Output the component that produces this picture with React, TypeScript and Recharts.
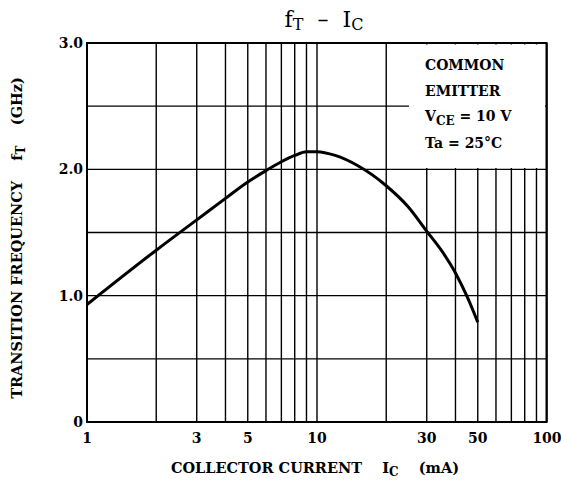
import { LineChart, Line, XAxis, YAxis, CartesianGrid } from "recharts";

// f_T vs I_C, common emitter, VCE = 10 V, Ta = 25°C
const currentMA = [1, 2, 3, 4, 5, 6, 7, 8, 9, 10, 12, 15, 20, 25, 30, 35, 40, 45, 50];
const ftGHz = [0.93, 1.36, 1.6, 1.77, 1.9, 1.99, 2.06, 2.11, 2.14, 2.14, 2.11, 2.03, 1.87, 1.7, 1.51, 1.35, 1.18, 0.99, 0.79];

const xGrid = [1, 2, 3, 4, 5, 6, 7, 8, 9, 10, 20, 30, 40, 50, 60, 70, 80, 90, 100];
const xLabels = [1, 3, 5, 10, 30, 50, 100];
const yGrid = [0, 0.5, 1, 1.5, 2, 2.5, 3];
const yLabels = [0, 1, 2, 3];

const data = currentMA.map((ic, i) => ({ ic, ft: ftGHz[i] }));

const FONT = "'DejaVu Serif', 'Liberation Serif', serif";

const XTick = (props: any) => {
  const { x, payload } = props;
  if (!xLabels.includes(payload.value)) return null;
  return (
    <text x={x} y={443} textAnchor="middle" fontFamily={FONT} fontWeight="bold" fontSize={14} fill="#000">
      {payload.value}
    </text>
  );
};

const YTick = (props: any) => {
  const { y, payload } = props;
  if (!yLabels.includes(payload.value)) return null;
  return (
    <text x={83} y={y + 5} textAnchor="end" fontFamily={FONT} fontWeight="bold" fontSize={14} fill="#000">
      {payload.value === 0 ? "0" : payload.value.toFixed(1)}
    </text>
  );
};

export default function App() {
  return (
    <div style={{ position: "absolute", left: 0, top: 0, width: 561, height: 486, background: "#fff" }}>
      <LineChart width={561} height={486} data={data} margin={{ top: 43, right: 14, left: 0, bottom: 0 }}>
        <CartesianGrid stroke="#000" strokeWidth={1.4} vertical horizontal />
        <XAxis
          dataKey="ic"
          type="number"
          scale="log"
          domain={[1, 100]}
          ticks={xGrid}
          interval={0}
          allowDataOverflow
          height={64}
          tickLine={false}
          axisLine={{ stroke: "#000", strokeWidth: 2 }}
          tick={<XTick />}
        />
        <YAxis
          type="number"
          domain={[0, 3]}
          ticks={yGrid}
          interval={0}
          width={87}
          tickLine={false}
          axisLine={{ stroke: "#000", strokeWidth: 2 }}
          tick={<YTick />}
        />
        <Line dataKey="ft" type="monotone" stroke="#000" strokeWidth={3} dot={false} isAnimationActive={false} />
      </LineChart>
      <svg width={561} height={486} style={{ position: "absolute", left: 0, top: 0, pointerEvents: "none" }}>
        <rect x={87} y={43} width={459.5} height={379} fill="none" stroke="#000" strokeWidth={2} />
        <rect x={409} y={44.5} width={136} height={123.5} fill="#fff" />
        <g fontFamily={FONT} fontWeight="bold" fontSize={14} fill="#000">
          <text x={425} y={70}>COMMON</text>
          <text x={425} y={96}>EMITTER</text>
          <text x={425} y={121}>
            V<tspan fontSize={12} dy={4}>CE</tspan>
            <tspan dy={-4}> = 10 V</tspan>
          </text>
          <text x={425} y={148}>Ta = 25°C</text>
        </g>
        <text x={324} y={27} textAnchor="middle" fontFamily={FONT} fontSize={22} fill="#000" xmlSpace="preserve">
          f<tspan fontSize={16} dy={3}>T</tspan>
          <tspan dy={-3}>{"  –  "}</tspan>I<tspan fontSize={16} dy={3}>C</tspan>
        </text>
        <text x={315} y={473} textAnchor="middle" fontFamily={FONT} fontWeight="bold" fontSize={14.5} fill="#000" xmlSpace="preserve">
          COLLECTOR CURRENT{"    "}I<tspan fontSize={12} dy={3}>C</tspan>
          <tspan dy={-3}>{"    "}(mA)</tspan>
        </text>
        <text
          x={0}
          y={0}
          transform="translate(22, 238) rotate(-90)"
          textAnchor="middle"
          fontFamily={FONT}
          fontWeight="bold"
          fontSize={14.5}
          fill="#000"
          xmlSpace="preserve"
        >
          TRANSITION FREQUENCY{"    "}f<tspan fontSize={12} dy={3}>T</tspan>
          <tspan dy={-3}>{"    "}(GHz)</tspan>
        </text>
      </svg>
    </div>
  );
}
